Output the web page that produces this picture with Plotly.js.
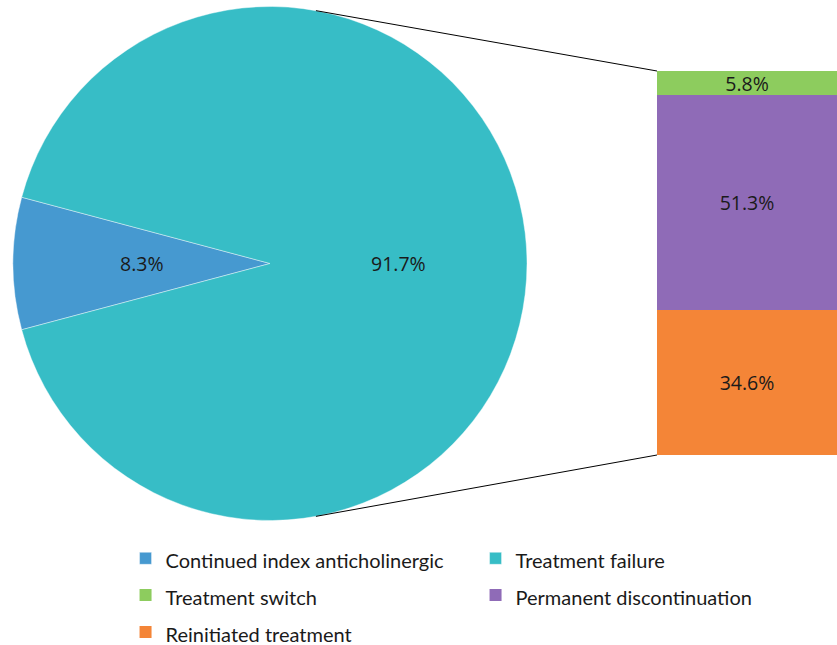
<!DOCTYPE html>
<html>
<head>
<meta charset="utf-8">
<script src="https://cdn.plot.ly/plotly-3.0.1.min.js"></script>
<style>html,body{margin:0;padding:0;background:#fff;}#chart{width:837px;height:645px;}</style>
</head>
<body>
<div id="chart"></div>
<script>
// ---- data ----
const pieLabels = ["Continued index anticholinergic", "Treatment failure"];
const pieValues = [8.3, 91.7];
const pieColors = ["#4699D0", "#37BDC6"];

const barLabels = ["Reinitiated treatment", "Permanent discontinuation", "Treatment switch"];
const barValues = [34.6, 51.3, 5.8];
const barColors = ["#F48537", "#8F6BB7", "#8DCC5E"];

// ---- layout constants ----
const W = 837, H = 645;
const pieDomX = [13 / W, 527 / W];
const pieDomY = [1 - 521 / H, 1 - 6 / H];
const barDomX = [657 / W, 1];
const barDomY = [1 - 455 / H, 1 - 71 / H];
const connectorAngle = 10.3; // degrees from vertical where connectors leave the pie
const labelRadius = 0.5;     // pie labels at half radius along slice mid-angle

const labelFont = {family: "Open Sans, Noto Sans, sans-serif", size: 19.5, color: "#1a1a1a"};
const legendTextSize = 20;   // visible legend text size (row pitch set by legend font size)

const barTotal = barValues.reduce((a, b) => a + b, 0);
const pieTotal = pieValues.reduce((a, b) => a + b, 0);
const startAngle = 270 - pieValues[0] / pieTotal * 360 / 2; // clockwise from 12 o'clock

const legendName = (s) => '<span style="font-size:' + legendTextSize + 'px">' + s + '</span>';

const traces = [{
  type: "pie",
  labels: pieLabels.map(legendName),
  values: pieValues,
  sort: false,
  direction: "clockwise",
  rotation: startAngle,
  marker: {colors: pieColors, line: {color: "rgba(255,255,255,0.6)", width: 0.7}},
  textinfo: "none",
  domain: {x: pieDomX, y: pieDomY},
  hoverinfo: "skip",
  legendrank: 1
}];

barLabels.forEach((name, i) => {
  traces.push({
    type: "bar",
    name: legendName(name),
    x: [0],
    y: [barValues[i]],
    width: 1,
    marker: {color: barColors[i], line: {width: 0}},
    texttemplate: "%{y:.1f}%",
    textposition: "inside",
    insidetextanchor: "middle",
    constraintext: "none",
    textfont: labelFont,
    hoverinfo: "skip",
    legendrank: 5 - i
  });
});

// pie geometry in pixels
const pxLeft = pieDomX[0] * W, pxRight = pieDomX[1] * W;
const pyTop = (1 - pieDomY[1]) * H, pyBot = (1 - pieDomY[0]) * H;
const cx = (pxLeft + pxRight) / 2, cy = (pyTop + pyBot) / 2;
const r = Math.min(pxRight - pxLeft, pyBot - pyTop) / 2;

// pie labels placed along each slice's mid-angle
const annotations = [];
let cum = 0;
pieValues.forEach((v) => {
  const mid = (startAngle + (cum + v / 2) / pieTotal * 360) * Math.PI / 180;
  cum += v;
  const lx = cx + labelRadius * r * Math.sin(mid);
  const ly = cy - labelRadius * r * Math.cos(mid);
  annotations.push({
    xref: "paper", yref: "paper", x: lx / W, y: 1 - ly / H,
    text: v.toFixed(1) + "%", showarrow: false, font: labelFont,
    xanchor: "center", yanchor: "middle"
  });
});

// connector lines computed from pie geometry and bar axes
const a = connectorAngle * Math.PI / 180;
const sx = cx + r * Math.sin(a);
const syTop = cy - r * Math.cos(a), syBot = cy + r * Math.cos(a);
const shapes = [
  {type: "line", xref: "paper", yref: "paper", x0: sx / W, y0: 1 - syTop / H, x1: barDomX[0], y1: barDomY[1], line: {color: "#000", width: 1}},
  {type: "line", xref: "paper", yref: "paper", x0: sx / W, y0: 1 - syBot / H, x1: barDomX[0], y1: barDomY[0], line: {color: "#000", width: 1}}
];

const layout = {
  width: W, height: H,
  margin: {l: 0, r: 0, t: 0, b: 0, autoexpand: false},
  paper_bgcolor: "#fff", plot_bgcolor: "#fff",
  barmode: "stack",
  bargap: 0,
  xaxis: {domain: barDomX, range: [-0.5, 0.5], visible: false, fixedrange: true},
  yaxis: {domain: barDomY, range: [0, barTotal], visible: false, fixedrange: true},
  showlegend: true,
  legend: {
    orientation: "h",
    x: 0.15, y: 0.1707, xanchor: "left", yanchor: "top",
    entrywidth: 305,
    font: {family: "Lato, sans-serif", size: 26, color: "#1a1a1a"},
    traceorder: "normal"
  },
  annotations: annotations,
  shapes: shapes
};

Plotly.newPlot("chart", traces, layout, {displayModeBar: false, staticPlot: true});
</script>
</body>
</html>
